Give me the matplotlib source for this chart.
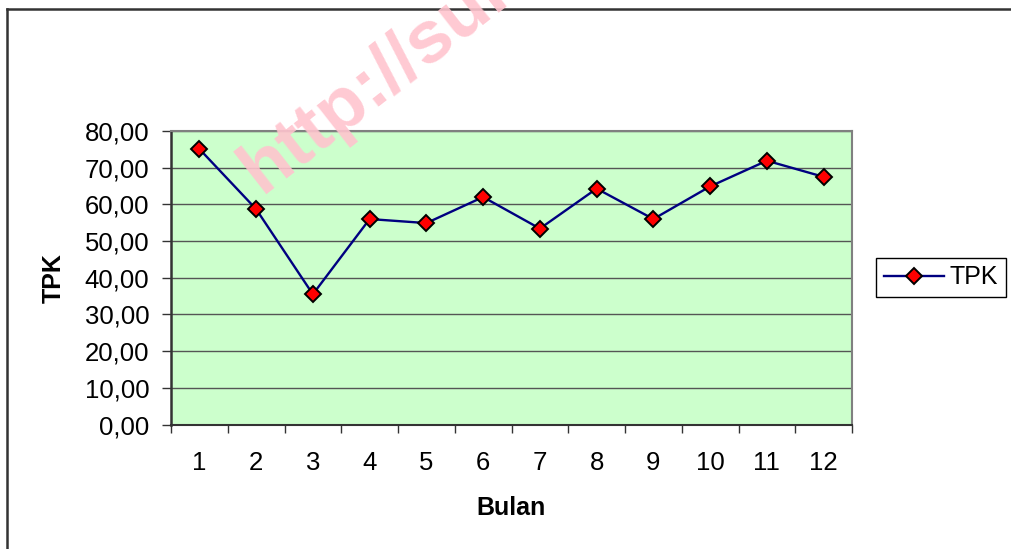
# TPK per bulan - line chart in the old Excel style

import numpy as np
import matplotlib.pyplot as plt
from matplotlib.lines import Line2D
from matplotlib.ticker import FuncFormatter, FixedLocator

plt.rcParams['font.family'] = ['Liberation Sans', 'DejaVu Sans']

# data
bulan = ['1', '2', '3', '4', '5', '6', '7', '8', '9', '10', '11', '12']
tpk = [75.1, 58.7, 35.5, 56.0, 54.9, 62.0, 53.4, 64.3, 56.0, 64.9, 71.9, 67.5]
y_ticks = [0, 10, 20, 30, 40, 50, 60, 70, 80]

fig = plt.figure(figsize=(10.11, 5.49), dpi=100)
ax = fig.add_axes([171/1011, 1 - 424.5/549, 681/1011, 293.5/549])
ax.set_facecolor('#CCFFCC')

x = np.arange(1, len(bulan) + 1)
ax.plot(x, tpk, color='#000080', lw=1.7, marker='D', markersize=8.5,
        markerfacecolor='#FF0000', markeredgecolor='black', markeredgewidth=1.4,
        label='TPK', zorder=3)

# axes ranges and ticks
ax.set_xlim(0.5, len(bulan) + 0.5)
ax.set_ylim(0, 80)
ax.set_yticks(y_ticks)
ax.yaxis.set_major_formatter(FuncFormatter(lambda v, p: f'{v:.2f}'.replace('.', ',')))
ax.yaxis.grid(True, color='#555555', lw=1.0)
ax.set_axisbelow(True)

# category boundaries as ticks, labels in between
ax.xaxis.set_major_locator(FixedLocator(np.arange(0.5, len(bulan) + 1)))
ax.xaxis.set_minor_locator(FixedLocator(x))
ax.set_xticklabels([])
ax.set_xticklabels(bulan, minor=True)
ax.tick_params(axis='x', which='major', length=6, width=1, color='#333333')
ax.tick_params(axis='x', which='minor', length=0, pad=19, labelsize=18.5)
ax.tick_params(axis='y', length=6.5, width=1, color='#333333', pad=9, labelsize=18.5)

for side in ['top', 'right']:
    ax.spines[side].set_color('#808080')
    ax.spines[side].set_linewidth(1.5)
ax.spines['left'].set_color('#333333')
ax.spines['left'].set_linewidth(1.8)
ax.spines['bottom'].set_color('#333333')
ax.spines['bottom'].set_linewidth(1.5)

ax.set_xlabel('Bulan', fontsize=18, fontweight='bold', labelpad=15)
ax.set_ylabel('TPK', fontsize=18, fontweight='bold', labelpad=14)

leg = ax.legend(loc='center left', bbox_to_anchor=(876/1011, 1 - 277.5/549),
                bbox_transform=fig.transFigure, fontsize=18, fancybox=False,
                edgecolor='black', framealpha=1, handlelength=2.4,
                borderpad=0.3, handletextpad=0.25, borderaxespad=0)
leg.get_frame().set_linewidth(1.0)

# chart border (only top and left visible)
fig.add_artist(Line2D([6.5/1011, 1], [1 - 8.5/549, 1 - 8.5/549],
                      transform=fig.transFigure, color='#333333', lw=1.8))
fig.add_artist(Line2D([6.5/1011, 6.5/1011], [0, 1 - 8.5/549],
                      transform=fig.transFigure, color='#333333', lw=1.8))

# watermark
fig.text(262/1011, 1 - 194/549, 'http://sul', fontsize=54, fontweight='bold',
         color='#FFC4CE', alpha=0.9, rotation=38, rotation_mode='anchor',
         ha='left', va='baseline', zorder=10)

fig.savefig('out.png', dpi=100)
